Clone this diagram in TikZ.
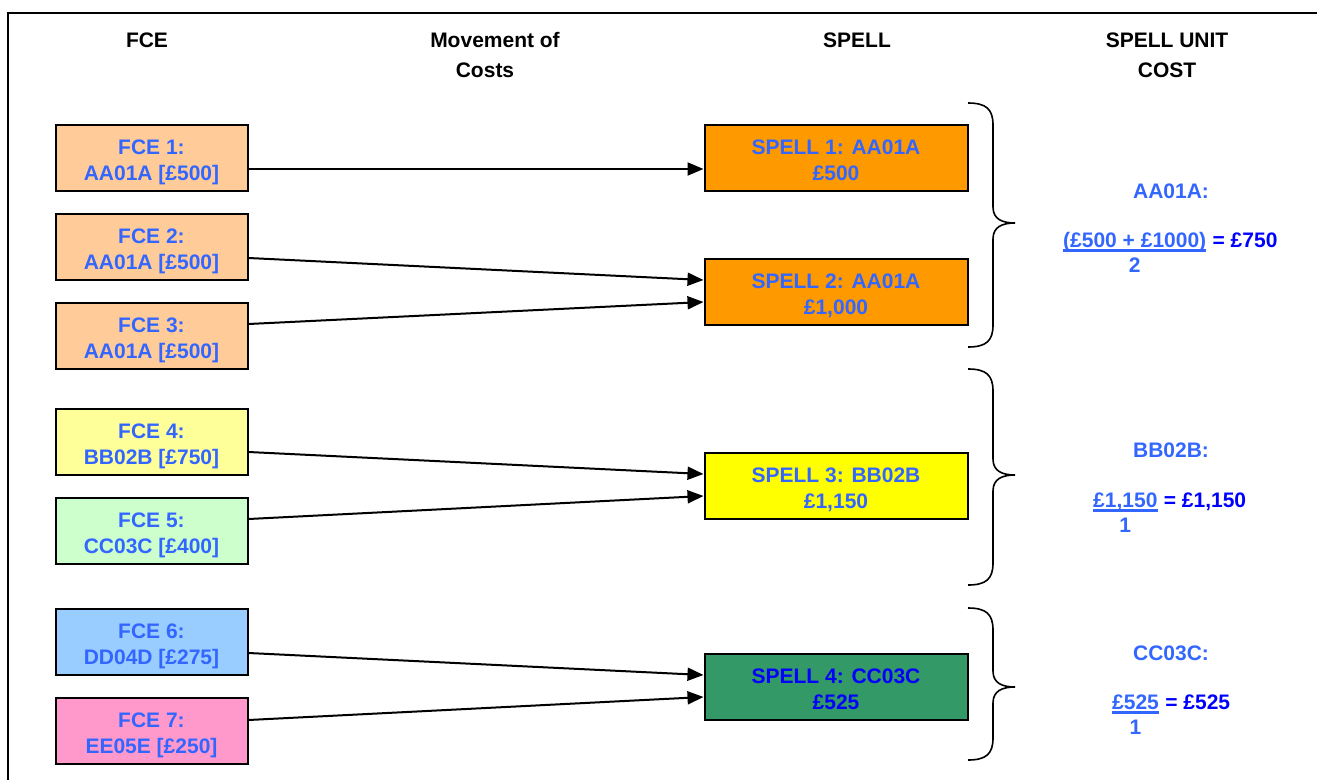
\documentclass[tikz,border=0pt]{standalone}
\usepackage{fontspec}
\setmainfont{Liberation Sans}
\usetikzlibrary{arrows.meta}
\definecolor{txtblue}{HTML}{3366FF}
\definecolor{deepblue}{HTML}{0000FF}
\definecolor{peach}{HTML}{FFCC99}
\definecolor{orng}{HTML}{FF9900}
\definecolor{ltyellow}{HTML}{FFFF99}
\definecolor{yel}{HTML}{FFFF00}
\definecolor{ltgreen}{HTML}{CCFFCC}
\definecolor{sea}{HTML}{339966}
\definecolor{ltblue}{HTML}{99CCFF}
\definecolor{pink}{HTML}{FF99CC}
\newcommand{\mybrace}[3]{%
  \draw[bracestyle] (968,#1) .. controls (986,#1) and (993,#1+6) .. (993,#1+22)
    -- (993,#2-16) .. controls (993,#2-4) and (1002,#2) .. (1015,#2)
    .. controls (1002,#2) and (993,#2+4) .. (993,#2+16)
    -- (993,#3-22) .. controls (993,#3-6) and (986,#3) .. (968,#3);}
\begin{document}
\begin{tikzpicture}[x=1pt,y=-1pt,
  bigfont/.style={font=\bfseries\fontsize{21}{26}\selectfont},
  boxbase/.style={bigfont, draw=black, line width=2pt, inner sep=0pt,
    minimum height=66pt, align=center, text=txtblue,
    text height=46pt, text depth=0pt},
  fcebox/.style={boxbase, minimum width=192pt},
  spellbox/.style={boxbase, minimum width=263pt},
  head/.style={bigfont, inner sep=0pt, anchor=base, text=black},
  ctext/.style={bigfont, inner sep=0pt, anchor=base, text=txtblue},
  rtext/.style={bigfont, inner sep=0pt, anchor=base west, text=deepblue},
  arr/.style={line width=2pt, -{Triangle[length=16pt,width=13pt]}},
  bracestyle/.style={line width=1.6pt},
  uline/.style={line width=2.7pt, txtblue}]
\useasboundingbox (0,0) rectangle (1317,779);
% frame
\draw[line width=2.5pt] (1318,13) -- (8,13) -- (8,780);
% headers
\node[head] (hfce) at (147,47.5) {FCE};
\node[head] (hmov1) at (495,47.5) {Movement of};
\node[head] (hmov2) at (485,77.5) {Costs};
\node[head] (hspell) at (857,47.5) {SPELL};
\node[head] (hunit1) at (1167,47.5) {SPELL UNIT};
\node[head] (hunit2) at (1167,77.5) {COST};
% FCE boxes
\node[fcebox, fill=peach] (f1) at (151.5,157.5) {FCE 1:\\AA01A [£500]};
\node[fcebox, fill=peach] (f2) at (151.5,246.5) {FCE 2:\\AA01A [£500]};
\node[fcebox, fill=peach] (f3) at (151.5,335.5) {FCE 3:\\AA01A [£500]};
\node[fcebox, fill=ltyellow] (f4) at (151.5,441.5) {FCE 4:\\BB02B [£750]};
\node[fcebox, fill=ltgreen] (f5) at (151.5,530.5) {FCE 5:\\CC03C [£400]};
\node[fcebox, fill=ltblue] (f6) at (151.5,641.5) {FCE 6:\\DD04D [£275]};
\node[fcebox, fill=pink] (f7) at (151.5,730.5) {FCE 7:\\EE05E [£250]};
% spell boxes
\node[spellbox, fill=orng] (s1) at (836,157.5) {SPELL 1: AA01A\\£500};
\node[spellbox, fill=orng] (s2) at (836,291.5) {SPELL 2: AA01A\\£1,000};
\node[spellbox, fill=yel] (s3) at (836,485.5) {SPELL 3: BB02B\\£1,150};
\node[spellbox, fill=sea, text=deepblue] (s4) at (836,686.5) {SPELL 4: CC03C\\£525};
% arrows
\draw[arr] ([yshift=-11.5pt]f1.east) -- ([yshift=-11.5pt]s1.west);
\draw[arr] ([yshift=-11.5pt]f2.east) -- ([yshift=11.5pt]s2.west);
\draw[arr] ([yshift=11.5pt]f3.east) -- ([yshift=-10.5pt]s2.west);
\draw[arr] ([yshift=-10.5pt]f4.east) -- ([yshift=11.5pt]s3.west);
\draw[arr] ([yshift=11.5pt]f5.east) -- ([yshift=-10.5pt]s3.west);
\draw[arr] ([yshift=-11.5pt]f6.east) -- ([yshift=11.5pt]s4.west);
\draw[arr] ([yshift=10.5pt]f7.east) -- ([yshift=-10.5pt]s4.west);
% braces
\mybrace{103}{223}{347}
\mybrace{369}{475}{585}
\mybrace{608}{687}{760}
% unit costs
\node[ctext] (c1) at (1171,198) {AA01A:};
\node[ctext, anchor=base west] (n1) at (1063,247) {(£500 + £1000)};
\draw[uline] ([yshift=-3.5pt]n1.base west) -- ([yshift=-3.5pt]n1.base east);
\node[rtext] (r1) at ([xshift=6pt]n1.base east) {= £750};
\node[ctext] (d1) at ([yshift=-25pt]n1.base) {2};

\node[ctext] (c2) at (1171,457) {BB02B:};
\node[ctext, anchor=base west] (n2) at (1093,507) {£1,150};
\draw[uline] ([yshift=-3.5pt]n2.base west) -- ([yshift=-3.5pt]n2.base east);
\node[rtext] (r2) at ([xshift=6pt]n2.base east) {= £1,150};
\node[ctext] (d2) at ([yshift=-25pt]n2.base) {1};

\node[ctext] (c3) at (1171,660) {CC03C:};
\node[ctext, anchor=base west] (n3) at (1112,709) {£525};
\draw[uline] ([yshift=-3.5pt]n3.base west) -- ([yshift=-3.5pt]n3.base east);
\node[rtext] (r3) at ([xshift=6pt]n3.base east) {= £525};
\node[ctext] (d3) at ([yshift=-25pt]n3.base) {1};
\end{tikzpicture}
\end{document}
